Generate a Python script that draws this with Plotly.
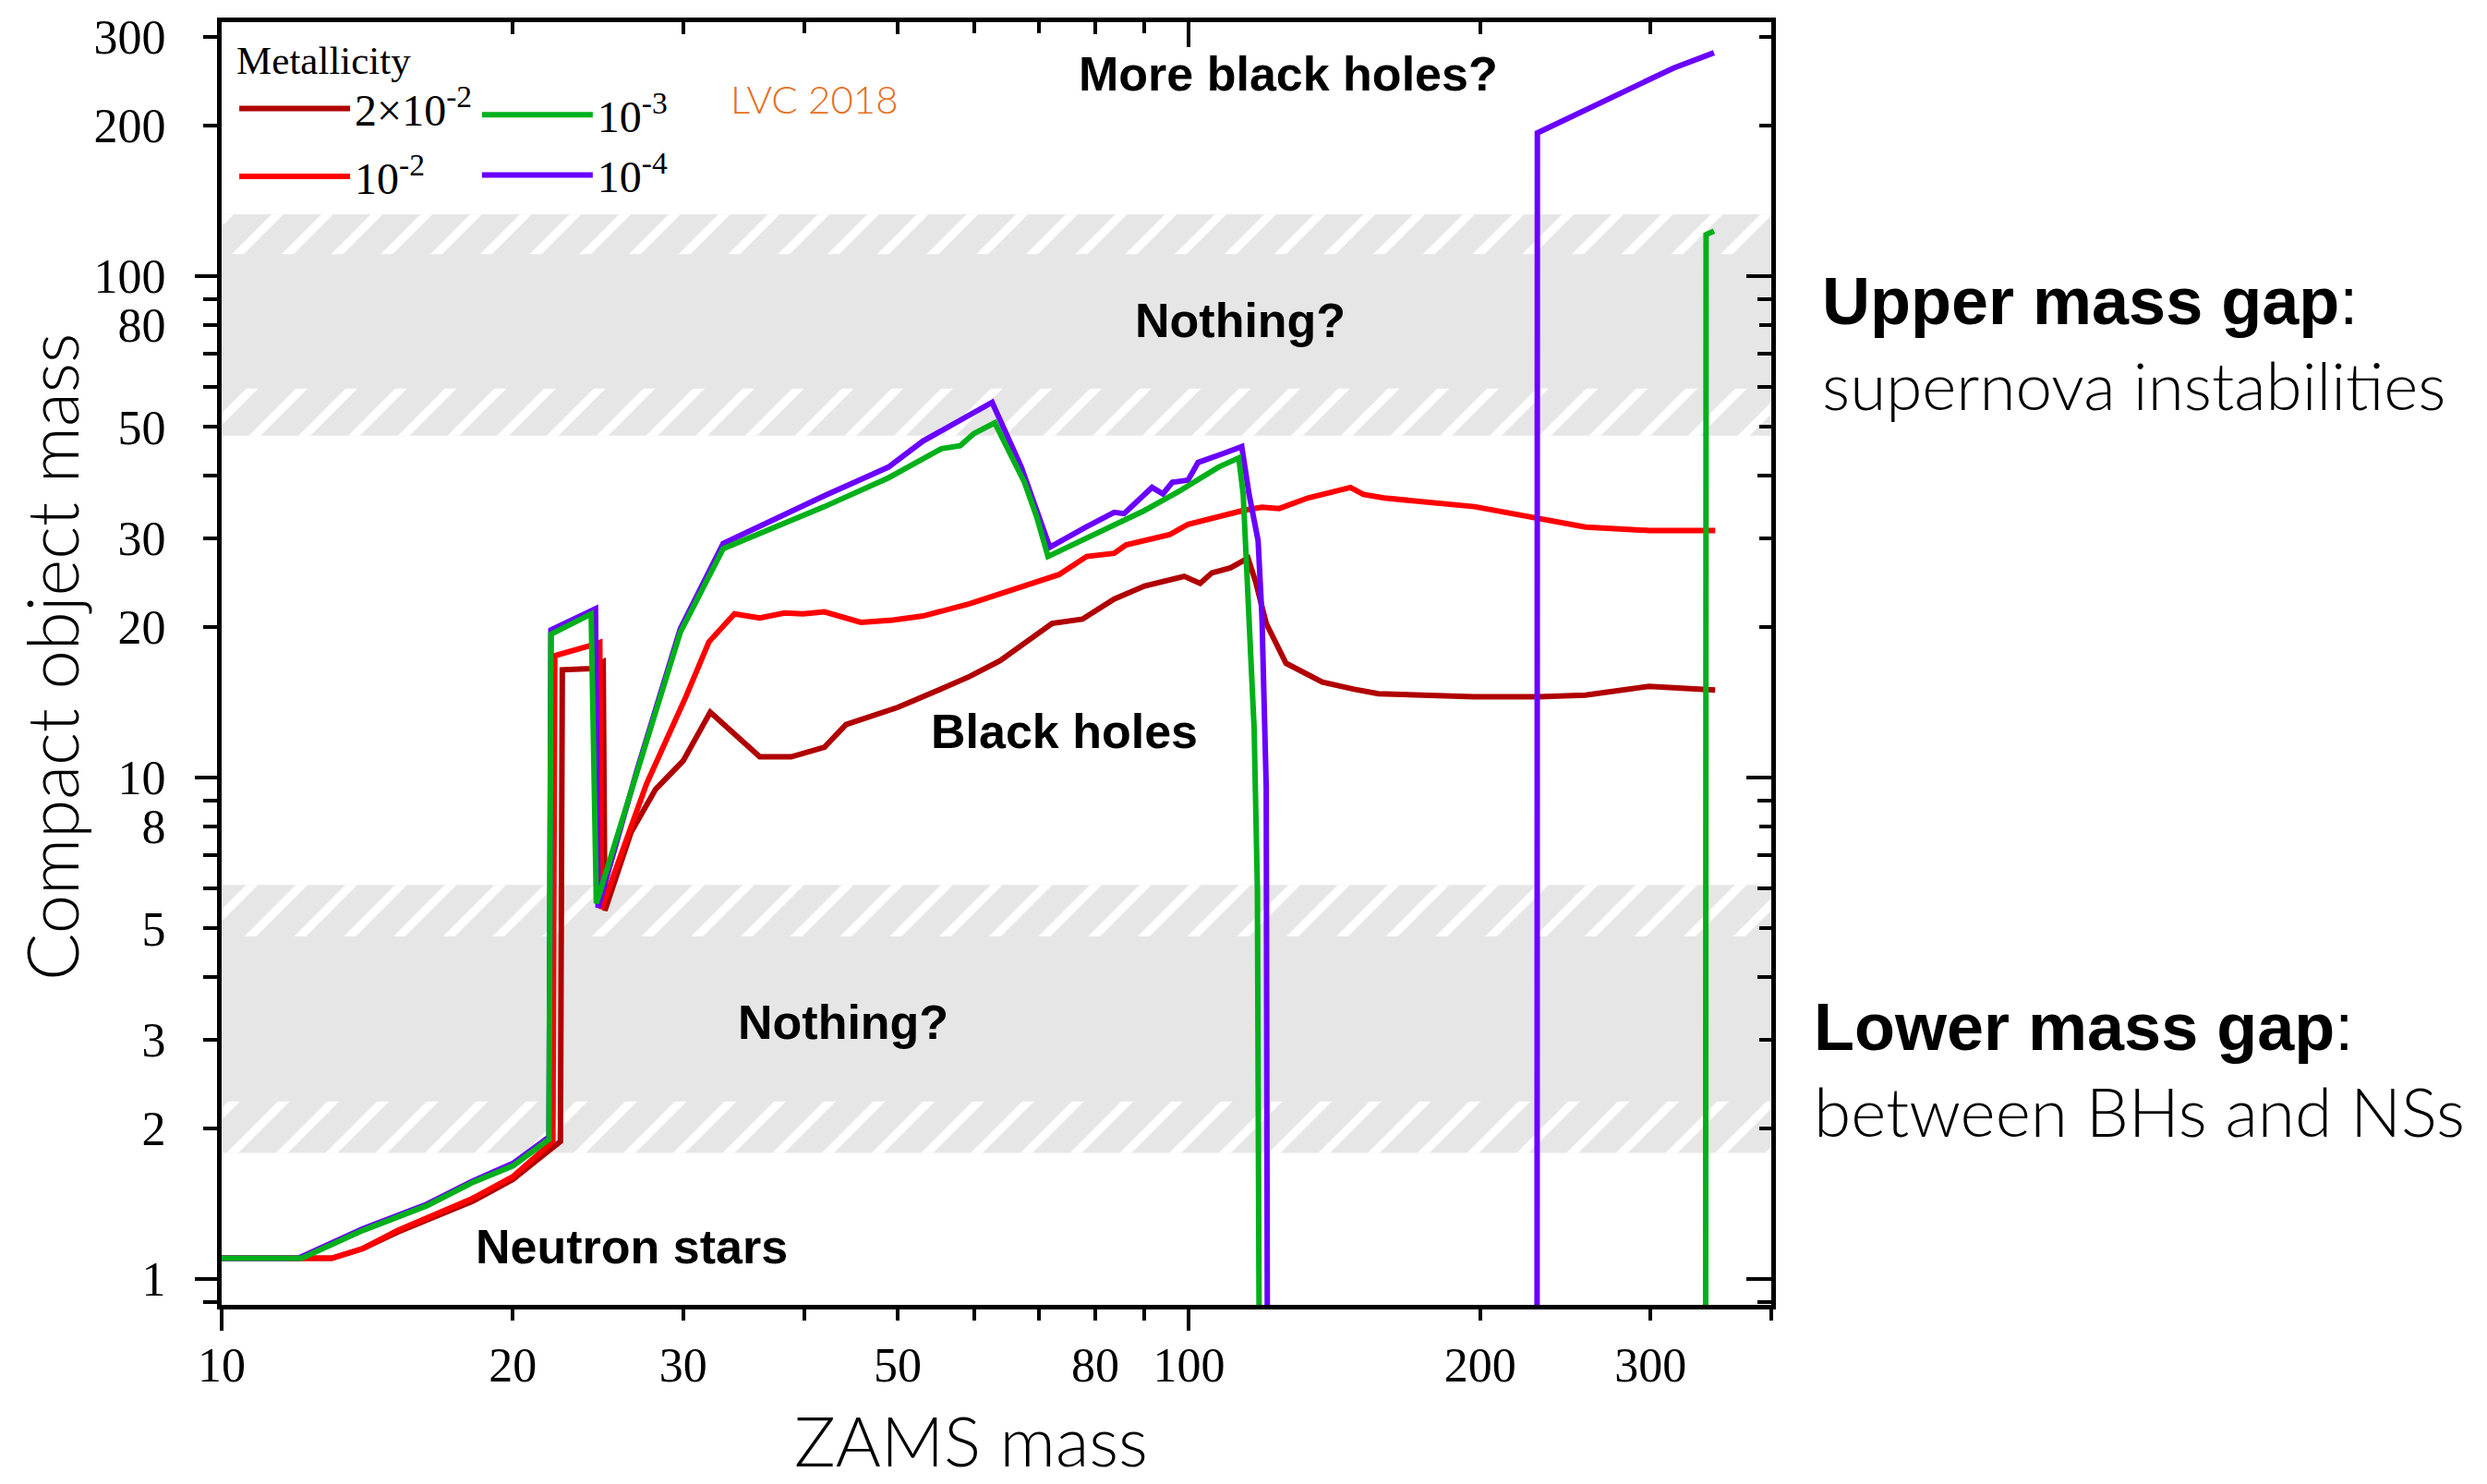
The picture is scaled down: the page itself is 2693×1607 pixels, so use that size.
import math
import plotly.graph_objects as go

# ---------------- data ----------------
zams_z2e2 = [10, 13.0, 14.0, 15.2, 18.2, 20, 22.4, 22.5, 24.1, 24.8, 24.9, 26.5, 28.1, 30.0, 32.0,
             36.0, 38.8, 42.0, 44.2, 50, 55.8, 59.3, 63.8, 68.1, 72.2, 77.6, 83.7, 90, 98.9, 102.7,
             105.6, 110.4, 115.1, 117.2, 120.2, 126, 137.4, 148.2, 157, 197, 230, 257, 299, 350]
rem_z2e2 = [1.1, 1.1, 1.15, 1.24, 1.43, 1.58, 1.88, 16.4, 16.5, 17.0, 5.43, 7.78, 9.48, 10.8, 13.5,
            11.0, 11.0, 11.5, 12.75, 13.8, 15.1, 15.9, 17.1, 18.65, 20.3, 20.7, 22.7, 24.1, 25.2, 24.4,
            25.6, 26.2, 27.4, 24.6, 20.3, 16.9, 15.5, 15.0, 14.7, 14.5, 14.5, 14.6, 15.2, 14.95]

zams_z1e2 = [10, 13.0, 14.0, 15.2, 18.2, 20, 22.0, 22.1, 24.0, 24.6, 24.7, 27.5, 30.2, 31.9, 33.9,
             36.0, 38.2, 39.9, 42.0, 45.8, 49.4, 53.1, 59.3, 61.5, 73.4, 78.4, 83.7, 86.1, 95.5, 99.8,
             113.8, 119, 124, 132.7, 146.9, 151.5, 159.2, 197.3, 229.5, 257, 299, 350]
rem_z1e2 = [1.1, 1.1, 1.15, 1.25, 1.45, 1.6, 1.88, 17.5, 18.3, 18.6, 5.47, 9.72, 14.5, 18.65, 21.2,
            20.8, 21.3, 21.2, 21.4, 20.4, 20.6, 21.0, 22.2, 22.7, 25.4, 27.6, 28.0, 29.1, 30.5, 32.0,
            34.1, 34.6, 34.4, 36.1, 37.9, 36.7, 36.1, 34.7, 33.0, 31.6, 31.1, 31.1]

zams_z1e3 = [10, 12.1, 14, 16.3, 18.2, 20, 21.8, 21.9, 24.1, 24.4, 26.9, 29.8, 33.0, 42.0, 48.9,
             53.1, 55.5, 58.0, 59.9, 63.0, 67.6, 69.6, 71.5, 90, 97.6, 107.3, 112.6, 113.8, 114.6,
             115.8, 116.8, 117.7, 118.7, 342, 342.5, 349]
rem_z1e3 = [1.1, 1.1, 1.25, 1.40, 1.56, 1.68, 1.9, 19.3, 21.2, 5.61, 10.3, 19.5, 28.6, 34.7, 39.6,
            43.4, 45.3, 45.9, 48.5, 51.0, 38.8, 33.1, 27.6, 34.1, 37.2, 41.6, 43.4, 36.7, 27.6,
            18.1, 12.5, 6.0, 0.1, 0.1, 121, 123]

zams_z1e4 = [10, 12.0, 14, 16.3, 18.2, 20, 21.8, 21.9, 24.35, 24.5, 26.9, 29.8, 33.0, 42.0, 48.9,
             53.1, 62.6, 67.1, 69.6, 71.8, 78.3, 83.7, 85.7, 91.6, 94.0, 96.1, 99.8, 102.2, 108.9,
             113.4, 115.4, 117.9, 119, 120.2, 120.8, 229, 229.2, 276, 316.9, 349]
rem_z1e4 = [1.1, 1.1, 1.26, 1.41, 1.57, 1.70, 1.92, 19.7, 21.7, 5.5, 10.4, 19.8, 29.3, 36.5, 41.6,
            46.9, 56.0, 41.6, 34.1, 28.8, 31.6, 33.8, 33.6, 37.9, 36.8, 38.8, 39.2, 42.5, 44.4,
            45.7, 36.7, 29.7, 20.8, 9.6, 0.1, 0.1, 193, 229, 260, 279]

series_names = ["2×10<sup>-2</sup>", "10<sup>-2</sup>", "10<sup>-3</sup>", "10<sup>-4</sup>"]
series_colors = ["#b00000", "#ff0000", "#00b01a", "#6a00ff"]

# mass-gap bands (compact-object mass limits)
upper_gap = [48.1, 132.7]
upper_gap_hatch = [[48.1, 59.7], [110.6, 132.7]]
lower_gap = [1.785, 6.1]
lower_gap_hatch = [[1.785, 2.26], [4.82, 6.1]]

x_range = [10, 400]
y_range = [0.888, 321]
x_labeled = [10, 20, 30, 50, 80, 100, 200, 300]
x_unlabeled = [40, 60, 70, 90, 400]
y_labeled = [1, 2, 3, 5, 8, 10, 20, 30, 50, 80, 100, 200, 300]
y_unlabeled = [0.9, 4, 6, 7, 9, 40, 60, 70, 90]
decade_vals_x = [10, 100]
decade_vals_y = [1, 10, 100]

# ---------------- figure ----------------
W, H = 2693, 1607
ML, MR, MT, MB = 240, 775, 20, 194
GREY = "#e6e6e6"

fig = go.Figure()


def band(lo, hi, hatch):
    xs = [x_range[0], x_range[1], x_range[1], x_range[0], x_range[0]]
    ys = [lo, lo, hi, hi, lo]
    kw = dict(x=xs, y=ys, mode="none", fill="toself", fillcolor=GREY,
              showlegend=False, hoverinfo="skip")
    if hatch:
        kw["fillpattern"] = dict(shape="/", bgcolor=GREY, fgcolor="white", size=38,
                                 solidity=0.24, fillmode="replace")
    return go.Scatter(**kw)


fig.add_trace(band(upper_gap[0], upper_gap[1], False))
for lo, hi in upper_gap_hatch:
    fig.add_trace(band(lo, hi, True))
fig.add_trace(band(lower_gap[0], lower_gap[1], False))
for lo, hi in lower_gap_hatch:
    fig.add_trace(band(lo, hi, True))

curves = [(zams_z2e2, rem_z2e2, 0, "legend", 1),
          (zams_z1e2, rem_z1e2, 1, "legend", 2),
          (zams_z1e4, rem_z1e4, 3, "legend2", 2),
          (zams_z1e3, rem_z1e3, 2, "legend2", 1)]
for xs, ys, i, leg, rank in curves:
    fig.add_trace(go.Scatter(x=xs, y=ys, mode="lines", name=series_names[i],
                             line=dict(color=series_colors[i], width=6),
                             legend=leg, legendrank=rank, legendgroup="g%d" % i,
                             hoverinfo="skip"))

# invisible anchors so that the extra tick-only axes get drawn
for k in ("2", "3", "4"):
    fig.add_trace(go.Scatter(x=[x_range[0]], y=[y_range[0]], xaxis="x" + k, yaxis="y" + k,
                             mode="markers", marker=dict(opacity=0, size=1),
                             showlegend=False, hoverinfo="skip"))

lx = [math.log10(v) for v in x_range]
ly = [math.log10(v) for v in y_range]
serif = "Liberation Serif, Times New Roman, serif"
sans = "Liberation Sans, Arial, Helvetica, sans-serif"
light = "Lato, Roboto, Liberation Sans, sans-serif"

common_x = dict(type="log", range=lx, showgrid=False, zeroline=False, tickwidth=4,
                tickcolor="black", fixedrange=True)
common_y = dict(type="log", range=ly, showgrid=False, zeroline=False, tickwidth=4,
                tickcolor="black", fixedrange=True)
minor_x = dict(tickvals=x_unlabeled, ticklen=12, tickwidth=4, tickcolor="black", showgrid=False)
minor_y = dict(tickvals=y_unlabeled, ticklen=15, tickwidth=4, tickcolor="black", showgrid=False)

fig.update_layout(
    width=W, height=H, autosize=False,
    margin=dict(l=ML, r=MR, t=MT, b=MB),
    paper_bgcolor="white", plot_bgcolor="white",
    xaxis=dict(**common_x, showline=True, linewidth=5, linecolor="black", mirror=True,
               ticks="outside", ticklen=12, tickmode="array", tickvals=x_labeled,
               ticktext=[str(v) for v in x_labeled],
               minor=dict(**minor_x, ticks="outside"),
               tickfont=dict(family=serif, size=52, color="black"), ticklabelstandoff=4),
    xaxis3=dict(**common_x, overlaying="x", anchor="y", side="bottom", ticks="outside",
                ticklen=27, tickmode="array", tickvals=decade_vals_x, showticklabels=False,
                showline=False),
    xaxis2=dict(**common_x, overlaying="x", anchor="y", side="top", ticks="inside",
                ticklen=13, tickmode="array", tickvals=x_labeled, showticklabels=False,
                minor=dict(**minor_x, ticks="inside"), showline=False),
    xaxis4=dict(**common_x, overlaying="x", anchor="y", side="top", ticks="inside",
                ticklen=27, tickmode="array", tickvals=decade_vals_x, showticklabels=False,
                showline=False),
    yaxis=dict(**common_y, showline=True, linewidth=5, linecolor="black", mirror=True,
               ticks="outside", ticklen=15, tickmode="array", tickvals=y_labeled,
               ticktext=[str(v) for v in y_labeled],
               minor=dict(**minor_y, ticks="outside"),
               tickfont=dict(family=serif, size=52, color="black"), ticklabelstandoff=30),
    yaxis3=dict(**common_y, overlaying="y", anchor="x", side="left", ticks="outside",
                ticklen=28, tickmode="array", tickvals=decade_vals_y, showticklabels=False,
                showline=False),
    yaxis2=dict(**common_y, overlaying="y", anchor="x", side="right", ticks="inside",
                ticklen=13, tickmode="array", tickvals=y_labeled, showticklabels=False,
                minor=dict(**minor_y, ticks="inside"), showline=False),
    yaxis4=dict(**common_y, overlaying="y", anchor="x", side="right", ticks="inside",
                ticklen=27, tickmode="array", tickvals=decade_vals_y, showticklabels=False,
                showline=False),
    legend=dict(x=0.0084, y=1.0, xanchor="left", yanchor="top", bgcolor="rgba(0,0,0,0)",
                borderwidth=0, itemwidth=120, tracegroupgap=8, traceorder="grouped",
                font=dict(family=serif, size=48, color="black"),
                title=dict(text="Metallicity", side="top",
                           font=dict(family=serif, size=43, color="black"))),
    legend2=dict(x=0.165, y=0.955, xanchor="left", yanchor="top", bgcolor="rgba(0,0,0,0)",
                 borderwidth=0, itemwidth=120, tracegroupgap=0, traceorder="grouped",
                 font=dict(family=serif, size=48, color="black")),
)

PW = W - ML - MR
PH = H - MT - MB


def px2paper(px, py):
    return (px - ML) / PW, (H - MB - py) / PH


def add_text(text, px, py, size, family=sans, weight="normal", color="black",
             xanchor="center", yanchor="middle", textangle=0):
    x, y = px2paper(px, py)
    fig.add_annotation(text=text, x=x, y=y, xref="paper", yref="paper", showarrow=False,
                       xanchor=xanchor, yanchor=yanchor, textangle=textangle, borderpad=0,
                       font=dict(family=family, size=size, color=color, weight=weight))


add_text("<b>More black holes?</b>", 1395, 76, 52)
add_text("<b>Nothing?</b>", 1343, 344, 52)
add_text("<b>Nothing?</b>", 913, 1106, 52)
add_text("<b>Black holes</b>", 1152, 790, 52)
add_text("<b>Neutron stars</b>", 684, 1350, 52)
add_text("LVC 2018", 882, 103, 42, family=light, weight=300, color="#e5711f")
add_text("<b>Upper mass gap</b>:", 1972, 323, 72, xanchor="left")
add_text("supernova instabilities", 1972, 414, 71, family=light, weight=300, xanchor="left")
add_text("<b>Lower mass gap</b>:", 1963, 1111, 72, xanchor="left")
add_text("between BHs and NSs", 1963, 1202, 73, family=light, weight=300, xanchor="left")
add_text("ZAMS mass", 1051, 1606, 75, family=light, weight=300, yanchor="bottom")
add_text("Compact object mass", 55, 710, 76, family=light, weight=300, textangle=-90)

fig.write_html("out.html")
